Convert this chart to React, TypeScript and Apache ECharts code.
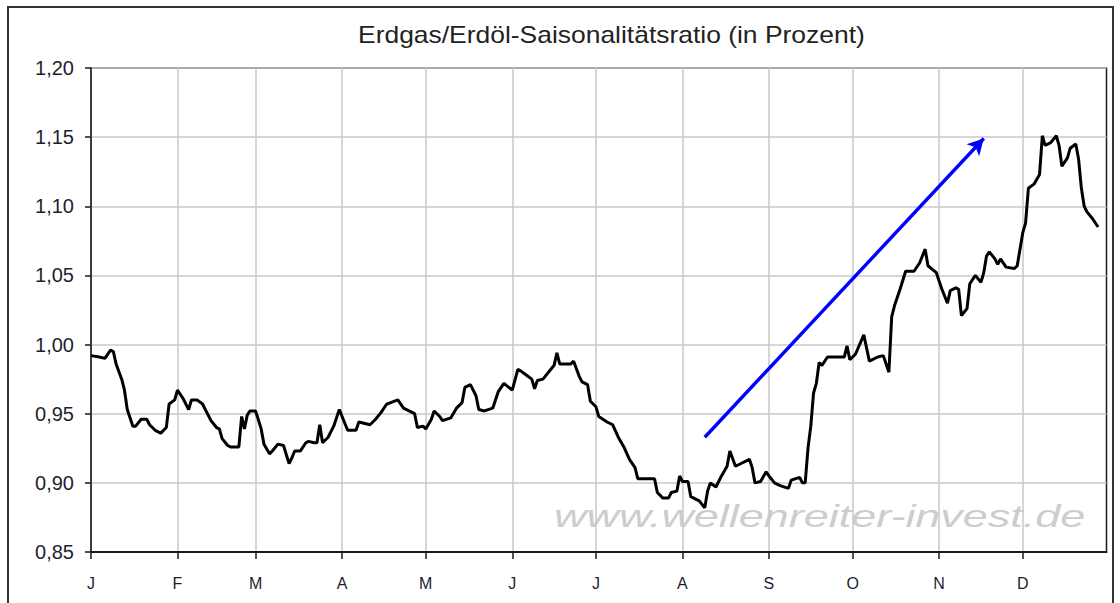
import { useEffect, useRef } from 'react';
import * as echarts from 'echarts';

const TITLE = 'Erdgas/Erdöl-Saisonalitätsratio (in Prozent)';
const WATERMARK = 'www.wellenreiter-invest.de';
const MONTH_LABELS = ['J', 'F', 'M', 'A', 'M', 'J', 'J', 'A', 'S', 'O', 'N', 'D'];
const MONTH_DAYS = [31, 28, 31, 30, 31, 30, 31, 31, 30, 31, 30, 31];
const Y_MIN = 0.85;
const Y_MAX = 1.2;
const Y_STEP = 0.05;

const RATIO_DAYS = [
  0, 3, 5, 7, 8, 9, 11, 12, 13, 15, 16, 18, 20, 21, 23, 25, 27, 28, 30, 31, 33, 35, 36, 38, 40, 41, 43, 45, 46, 47,
  49, 50, 53, 54, 55, 56, 57, 59, 61, 62, 64, 65, 67, 69, 71, 72, 73, 75, 77, 78, 80, 81, 82, 83, 85, 87, 89, 90, 92,
  95, 96, 100, 102, 104, 106, 110, 112, 116, 117, 119, 120, 122, 123, 125, 126, 129, 131, 133, 134, 136, 138, 139,
  141, 144, 146, 148, 151, 153, 154, 156, 158, 159, 160, 162, 166, 167, 168, 172, 173, 175, 176, 178, 179, 181, 182,
  185, 187, 189, 191, 193, 195, 196, 199, 202, 203, 205, 207, 208, 210, 211, 212, 214, 215, 218, 220, 221, 222, 224,
  226, 228, 229, 231, 233, 236, 237, 238, 240, 242, 243, 245, 247, 250, 251, 254, 255, 256, 257, 258, 259, 260, 261,
  262, 264, 270, 271, 272, 274, 277, 279, 282, 284, 286, 287, 288, 290, 292, 295, 297, 299, 300, 303, 305, 307, 308,
  310, 311, 312, 314, 315, 317, 319, 320, 321, 322, 324, 325, 326, 328, 331, 332, 334, 335, 336, 338, 340, 341, 342,
  344, 346, 347, 348, 350, 351, 353, 354, 355, 356, 357, 359, 361,
];

const RATIO_VALUES = [
  0.992, 0.991, 0.99, 0.996, 0.995, 0.986, 0.975, 0.967, 0.953, 0.941, 0.941, 0.946, 0.946, 0.942, 0.938, 0.936,
  0.94, 0.957, 0.96, 0.967, 0.961, 0.953, 0.96, 0.96, 0.957, 0.953, 0.945, 0.94, 0.939, 0.932, 0.927, 0.926, 0.926,
  0.948, 0.939, 0.949, 0.952, 0.952, 0.939, 0.928, 0.921, 0.923, 0.928, 0.927, 0.914, 0.918, 0.923, 0.923, 0.929,
  0.93, 0.929, 0.929, 0.942, 0.929, 0.933, 0.941, 0.953, 0.948, 0.938, 0.938, 0.944, 0.942, 0.946, 0.951, 0.957,
  0.96, 0.954, 0.95, 0.94, 0.941, 0.939, 0.946, 0.952, 0.948, 0.945, 0.947, 0.954, 0.958, 0.969, 0.971, 0.963, 0.953,
  0.952, 0.954, 0.966, 0.972, 0.967, 0.982, 0.981, 0.978, 0.975, 0.968, 0.974, 0.975, 0.985, 0.994, 0.986, 0.986,
  0.988, 0.977, 0.973, 0.971, 0.959, 0.955, 0.948, 0.944, 0.942, 0.933, 0.926, 0.917, 0.911, 0.903, 0.903, 0.903,
  0.893, 0.889, 0.889, 0.893, 0.894, 0.905, 0.901, 0.901, 0.89, 0.887, 0.882, 0.894, 0.9, 0.897, 0.905, 0.912, 0.923,
  0.912, 0.914, 0.917, 0.911, 0.9, 0.901, 0.908, 0.905, 0.9, 0.898, 0.896, 0.902, 0.904, 0.9, 0.9, 0.925, 0.941,
  0.965, 0.972, 0.987, 0.985, 0.991, 0.991, 0.999, 0.989, 0.993, 1.007, 0.988, 0.991, 0.992, 0.98, 1.02, 1.028, 1.04,
  1.053, 1.053, 1.059, 1.069, 1.057, 1.052, 1.04, 1.03, 1.039, 1.041, 1.04, 1.021, 1.026, 1.044, 1.05, 1.045, 1.052,
  1.064, 1.067, 1.062, 1.058, 1.062, 1.056, 1.055, 1.057, 1.081, 1.088, 1.113, 1.116, 1.123, 1.151, 1.144, 1.146,
  1.151, 1.144, 1.129, 1.135, 1.142, 1.145, 1.134, 1.113, 1.1, 1.096, 1.091, 1.085,
];

const ARROW_FROM = [220, 0.933];
const ARROW_TO = [320, 1.149];

export default function App() {
  const ref = useRef<HTMLDivElement>(null);

  useEffect(() => {
    const chart = echarts.init(ref.current!, null, { renderer: 'svg' });

    const categories: string[] = [];
    const monthStarts: number[] = [];
    MONTH_DAYS.forEach((n, m) => {
      monthStarts.push(categories.length);
      for (let d = 1; d <= n; d++) categories.push(`${m + 1}/${d}`);
    });
    const isStart = (i: number) => monthStarts.indexOf(i) >= 0;
    const data = RATIO_DAYS.map((d, i) => [d, RATIO_VALUES[i]]);

    const font = 'Liberation Sans';

    chart.setOption({
      animation: false,
      backgroundColor: '#ffffff',
      grid: {
        left: 91,
        top: 68,
        right: 13.5,
        bottom: 51,
        show: true,
        borderColor: '#1a1a1a',
        borderWidth: 1.5,
        backgroundColor: 'transparent',
      },
      xAxis: {
        type: 'category',
        data: categories,
        boundaryGap: false,
        axisLine: { show: true, lineStyle: { color: '#1a1a1a', width: 2 } },
        axisTick: {
          show: true,
          length: 7,
          interval: (i: number) => isStart(i),
          lineStyle: { color: '#1a1a1a', width: 1.5 },
        },
        axisLabel: {
          show: true,
          interval: (i: number) => isStart(i),
          margin: 23,
          fontSize: 16,
          fontFamily: font,
          color: '#1e1e30',
          formatter: (v: string) => {
            const [m, d] = v.split('/').map(Number);
            return d === 1 ? MONTH_LABELS[m - 1] : '';
          },
        },
        splitLine: {
          show: true,
          interval: (i: number) => isStart(i),
          lineStyle: { color: '#c8c8c8', width: 1.5 },
        },
      },
      yAxis: {
        type: 'value',
        min: Y_MIN,
        max: Y_MAX,
        interval: Y_STEP,
        axisLine: { show: true, lineStyle: { color: '#1a1a1a', width: 1.5 } },
        axisTick: { show: true, length: 6, lineStyle: { color: '#1a1a1a', width: 1.5 } },
        axisLabel: {
          margin: 17,
          fontSize: 20,
          fontFamily: font,
          color: '#1e1e30',
          formatter: (v: number) => v.toFixed(2).replace('.', ','),
        },
        splitLine: { show: true, lineStyle: { color: '#c8c8c8', width: 1.5 } },
      },
      graphic: [
        {
          type: 'rect',
          shape: { x: 8, y: 7, width: 1105, height: 700 },
          style: { fill: 'none', stroke: '#333333', lineWidth: 2 },
          silent: true,
          z: 0,
        },
        {
          type: 'text',
          x: 358,
          y: 35,
          scaleX: 1.15,
          style: {
            text: TITLE,
            fontSize: 23,
            fontFamily: font,
            fill: '#222222',
            align: 'left',
            verticalAlign: 'middle',
          },
          z: 1,
        },
        {
          type: 'text',
          x: 554,
          y: 516,
          scaleX: 1.45,
          style: {
            text: WATERMARK,
            fontSize: 31,
            fontStyle: 'italic',
            fontFamily: font,
            fill: '#cdcdcd',
            align: 'left',
            verticalAlign: 'middle',
          },
          z: 0,
        },
      ],
      series: [
        {
          type: 'line',
          data,
          symbol: 'none',
          lineStyle: { color: '#000000', width: 3 },
          z: 5,
          markLine: {
            silent: true,
            symbol: ['none', 'arrow'],
            symbolSize: [13, 16],
            label: { show: false },
            lineStyle: { color: '#0000ff', width: 3.4, type: 'solid' },
            data: [[{ coord: ARROW_FROM }, { coord: ARROW_TO }]],
          },
        },
      ],
    });

    return () => chart.dispose();
  }, []);

  return (
    <div
      ref={ref}
      style={{ position: 'absolute', left: 0, top: 0, width: 1120, height: 603, background: '#fff' }}
    />
  );
}
